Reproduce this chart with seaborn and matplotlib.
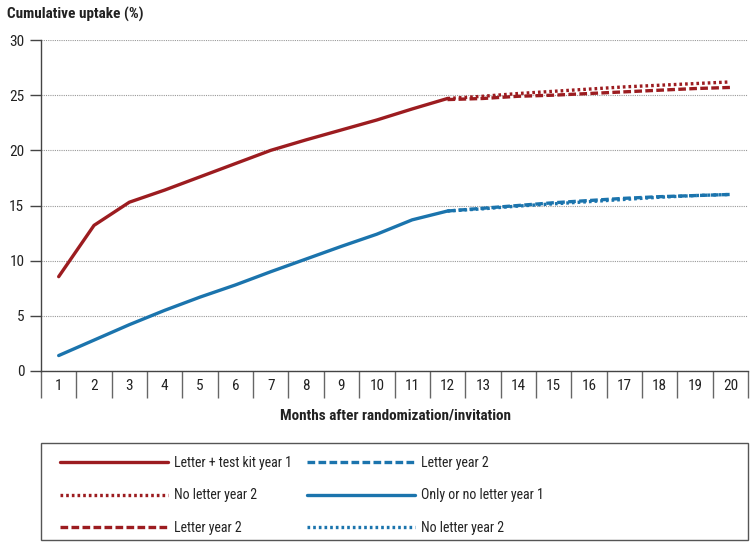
import numpy as np
import pandas as pd
import matplotlib.pyplot as plt
import matplotlib.patches as patches
from matplotlib import font_manager
from matplotlib.ticker import FixedLocator, NullFormatter
import seaborn as sns

# Data
months_y1 = [1, 2, 3, 4, 5, 6, 7, 8, 9, 10, 11, 12]
months_y2 = [12, 13, 14, 15, 16, 17, 18, 19, 20]
months_all = list(range(1, 21))

kit_year1 = [8.55, 13.2, 15.3, 16.4, 17.6, 18.8, 20.0, 20.95, 21.85, 22.75, 23.75, 24.7]
kit_noletter_y2 = [24.7, 24.9, 25.15, 25.35, 25.55, 25.75, 25.9, 26.05, 26.2]
kit_letter_y2 = [24.6, 24.7, 24.9, 25.0, 25.15, 25.3, 25.45, 25.6, 25.7]

only_year1 = [1.4, 2.8, 4.2, 5.5, 6.7, 7.8, 9.0, 10.15, 11.3, 12.4, 13.7, 14.5]
only_letter_y2 = [14.5, 14.75, 15.0, 15.25, 15.45, 15.65, 15.8, 15.9, 16.0]
only_noletter_y2 = [14.5, 14.7, 14.95, 15.15, 15.35, 15.55, 15.75, 15.9, 16.0]

red = "#9c1c20"
blue = "#1b74ad"

sns.set_style("white")

#Pick a narrow font if there is one
installed = {f.name for f in font_manager.fontManager.ttflist}
font = "DejaVu Sans"
for name in ["Liberation Sans Narrow", "DejaVu Sans Condensed", "Roboto Condensed",
             "Liberation Sans"]:
    if name in installed:
        font = name
        break
plt.rcParams["font.family"] = [font, "DejaVu Sans"]
fs = 11
fs_leg = 10

fig = plt.figure(figsize=(7.52, 5.43), dpi=100)
W, H = 752, 543
ax = fig.add_axes([41 / W, (H - 371) / H, 707 / W, 331 / H])

lw = 2.4
dotted = (0, (0.8, 0.9))
dashed = (0, (2.3, 1.0))
series = [
    (months_y1, kit_year1, red, "-", "Letter + test kit year 1"),
    (months_y2, kit_noletter_y2, red, dotted, "No letter year 2"),
    (months_y2, kit_letter_y2, red, dashed, "Letter year 2"),
    (months_y2, only_letter_y2, blue, dashed, "Letter year 2"),
    (months_y1, only_year1, blue, "-", "Only or no letter year 1"),
    (months_y2, only_noletter_y2, blue, dotted, "No letter year 2"),
]
for xs, ys, col, ls, lab in series:
    sns.lineplot(x=xs, y=ys, ax=ax, color=col, linestyle=ls, linewidth=lw,
                 label=lab, legend=False)

ax.set_xlim(0.5, 20.5)
ax.set_ylim(0, 30)

#y axis
ax.set_yticks([0, 5, 10, 15, 20, 25, 30])
ax.tick_params(axis="y", left=True, direction="out", length=8, width=1,
               color="#444444", labelsize=fs, pad=4, labelcolor="#222222")
ax.yaxis.grid(True, linestyle=(0, (1, 1)), color="#999999", linewidth=0.8)
ax.set_axisbelow(True)

#x axis drawn as boxes, one per month
ax.xaxis.set_major_locator(FixedLocator(np.arange(0.5, 21, 1)))
ax.xaxis.set_major_formatter(NullFormatter())
ax.xaxis.set_minor_locator(FixedLocator(months_all))
ax.set_xticklabels([str(m) for m in months_all], minor=True)
ax.tick_params(axis="x", which="major", bottom=True, direction="out",
               length=19.5, width=1, color="#666666")
ax.tick_params(axis="x", which="minor", bottom=True, length=0, labelsize=fs,
               pad=6, labelcolor="#222222")

for s in ["top", "right"]:
    ax.spines[s].set_visible(False)
for s in ["left", "bottom"]:
    ax.spines[s].set_color("#444444")
    ax.spines[s].set_linewidth(1)
ax.set_xlabel("")
ax.set_ylabel("")

fig.text(7 / W, 1 - 14 / H, "Cumulative uptake (%)", fontsize=fs,
         fontweight="bold", va="center", ha="left", color="#222222")
fig.text(395 / W, 1 - 416 / H, "Months after randomization/invitation",
         fontsize=fs, fontweight="bold", va="center", ha="center",
         color="#222222")

#Legend box
box = patches.Rectangle((41 / W, 3 / H), 707 / W, (541 - 444) / H,
                        transform=fig.transFigure, fill=False,
                        edgecolor="#555555", linewidth=1)
fig.add_artist(box)

handles, labels = ax.get_legend_handles_labels()
for part, x0 in [(slice(0, 3), 47), (slice(3, 6), 294)]:
    fig.legend(handles[part], labels[part], loc="upper left",
               bbox_to_anchor=(x0 / W, 1 - 443 / H), frameon=False,
               fontsize=fs_leg, handlelength=7.8, handletextpad=0.42,
               labelspacing=1.36, labelcolor="#222222")

fig.savefig("out.png", dpi=100)
